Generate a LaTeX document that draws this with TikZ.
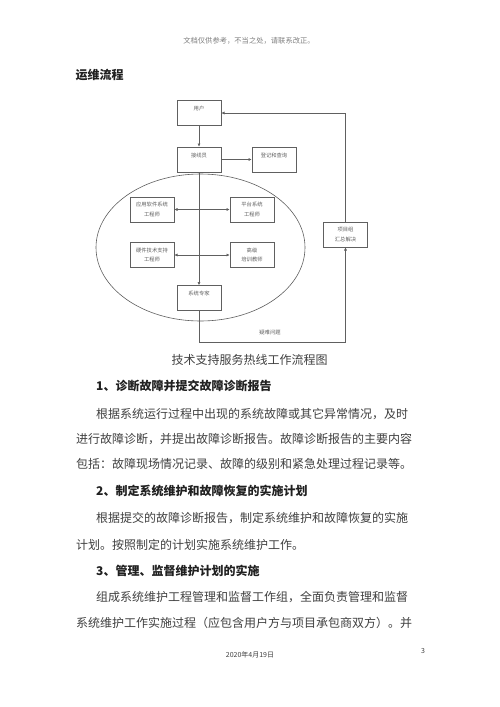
\documentclass[tikz,border=0pt]{standalone}
\usepackage{fontspec}
\newfontfamily\cjk{Noto Sans CJK SC}
\usetikzlibrary{arrows.meta,shapes.geometric}
\definecolor{ln}{HTML}{606060}
\definecolor{bodytxt}{HTML}{404040}
\definecolor{headtxt}{HTML}{202020}
\tikzset{
  box/.style={draw=ln, line width=0.6pt, minimum width=44pt, minimum height=25pt, inner sep=0pt, align=center, font=\cjk\fontsize{5.3}{9.5}\selectfont, text=ln},
  intxt/.style={inner sep=0pt, font=\cjk\fontsize{5.3}{6}\selectfont, text=ln},
  conn/.style={draw=ln, line width=0.6pt},
  arr/.style={conn, -{Latex[length=3.2pt,width=3.2pt]}},
  darr/.style={conn, {Latex[length=3.2pt,width=3.2pt]}-{Latex[length=3.2pt,width=3.2pt]}},
  bodyline/.style={anchor=west, inner sep=0pt, font=\cjk\fontsize{12}{14}\selectfont, text=bodytxt},
  headline/.style={anchor=west, inner sep=0pt, font=\cjk\bfseries\fontsize{12}{14}\selectfont, text=headtxt},
}
\begin{document}
\begin{tikzpicture}[x=1pt,y=-1pt]
\useasboundingbox (0,0) rectangle (500,707);
\fill[white] (0,0) rectangle (500,707);
% header
\node[inner sep=0pt, font=\cjk\fontsize{7.3}{8}\selectfont, text=gray] (hdr) at (249,41) {文档仅供参考，不当之处，请联系改正。};
\node[inner sep=0pt, font=\cjk\bfseries\fontsize{12}{14}\selectfont, text=headtxt] (title) at (99.5,75) {运维流程};
% diagram
\node[ellipse, draw=ln, line width=0.6pt, minimum width=209pt, minimum height=147pt, inner sep=0pt] (grp) at (200.5,247.5) {};
\node[box] (user) at (199,113) {};
\node[box] (op) at (199,159.5) {};
\node[box] (reg) at (274,159.5) {};
\node[box] (app) at (152,209.5) {应用软件系统\\工程师};
\node[box] (plat) at (252,209.5) {平台系统\\工程师};
\node[box] (hw) at (152,255) {硬件技术支持\\工程师};
\node[box] (train) at (252,255) {高级\\培训教师};
\node[box] (exp) at (199,298) {};
\node[box] (proj) at (345.5,234.5) {项目组\\汇总解决};
\node[intxt] (userT) at (199,108) {用户};
\node[intxt] (opT) at (199,155) {接线员};
\node[intxt] (regT) at (274,155) {登记和查询};
\node[intxt] (expT) at (199,293) {系统专家};
\coordinate (c1) at (199,342);
\coordinate (c2) at (345.5,342);
\coordinate (c3) at (345.5,113);
\draw[arr] (user) -- (op);
\draw[arr] (op) -- (reg);
\draw[arr] (op) -- (exp);
\draw[darr] (app) -- (plat);
\draw[darr] (hw) -- (train);
\draw[arr] (exp.south) -- (c1) -- (c2) -- (proj.south);
\draw[arr] (proj.north) -- (c3) -- (user.east);
\node[intxt] (diff) at (270,333) {疑难问题};
% caption
\node[inner sep=0pt, font=\cjk\fontsize{12}{14}\selectfont, text=bodytxt] (cap) at (249.5,360) {技术支持服务热线工作流程图};
% text body
\node[headline] (h1) at (96,386) {1、诊断故障并提交故障诊断报告};
\node[bodyline] (p1a) at (96,414) {根据系统运行过程中出现的系统故障或其它异常情况，及时};
\node[bodyline] (p1b) at (76,439) {进行故障诊断，并提出故障诊断报告。故障诊断报告的主要内容};
\node[bodyline] (p1c) at (76,464) {包括：故障现场情况记录、故障的级别和紧急处理过程记录等。};
\node[headline] (h2) at (96,491) {2、制定系统维护和故障恢复的实施计划};
\node[bodyline] (p2a) at (96,518) {根据提交的故障诊断报告，制定系统维护和故障恢复的实施};
\node[bodyline] (p2b) at (76,545) {计划。按照制定的计划实施系统维护工作。};
\node[headline] (h3) at (96,571) {3、管理、监督维护计划的实施};
\node[bodyline] (p3a) at (96,597) {组成系统维护工程管理和监督工作组，全面负责管理和监督};
\node[bodyline] (p3b) at (76,623) {系统维护工作实施过程（应包含用户方与项目承包商双方）。并};
% footer
\node[inner sep=0pt, font=\cjk\fontsize{7}{8}\selectfont, text=bodytxt] (pg) at (423,651) {3};
\node[inner sep=0pt, font=\cjk\fontsize{7}{8}\selectfont, text=bodytxt] (date) at (250,655) {2020年4月19日};
\end{tikzpicture}
\end{document}
